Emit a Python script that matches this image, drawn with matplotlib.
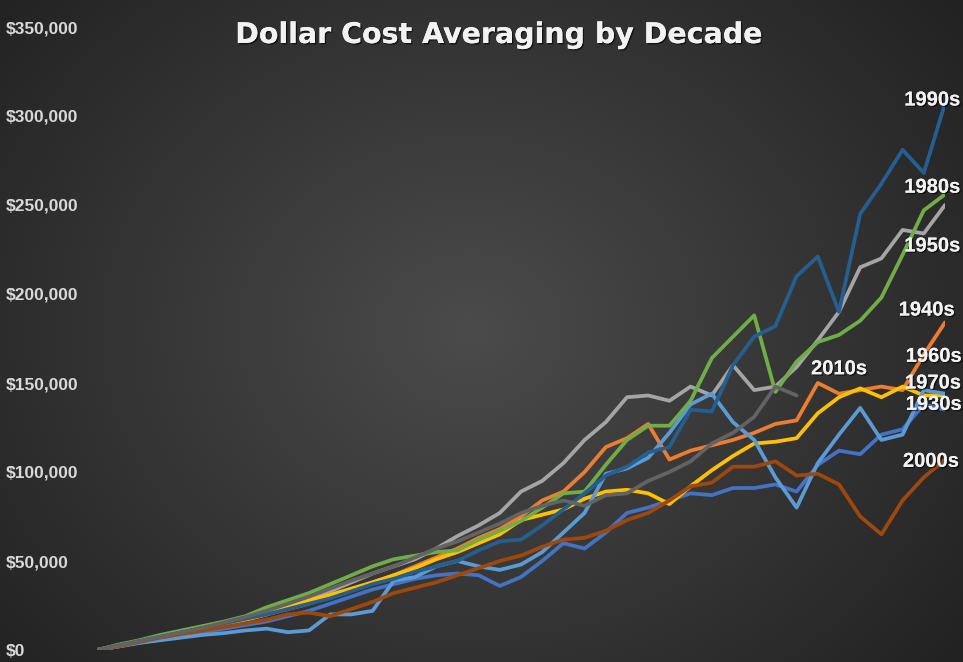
import numpy as np
import matplotlib
matplotlib.use("Agg")
import matplotlib.pyplot as plt
import matplotlib.patheffects as pe
from matplotlib.ticker import FuncFormatter

# quarterly sample points (months into the decade)
months = np.arange(0, 121, 3)

# portfolio value in $ thousands
v1930s = [0, 2, 4, 6, 8, 10, 12, 14, 16, 19, 22, 26, 30,
          34, 37, 40, 42, 43, 42, 36, 41,
          50, 60, 57, 66, 77, 80, 84, 88, 87, 91,
          91, 93, 89, 104, 112, 110, 121, 124, 138, 135]
v1940s = [0, 2.5, 5, 7, 9.5, 12, 14.5, 17, 20, 23, 26, 30, 34,
          38, 42, 47, 52, 57, 63, 68, 75,
          84, 89, 100, 114, 119, 127, 107, 112, 115, 118,
          122, 127, 129, 150, 144, 146, 148, 146, 166, 184]
v1950s = [0, 2, 4.5, 7, 9.5, 12, 15, 18, 22, 26, 29, 33, 38,
          43, 47, 51, 57, 64, 70, 77, 89,
          95, 105, 118, 128, 142, 143, 140, 148, 143, 160,
          146, 148, 159, 174, 190, 215, 220, 236, 234, 250]
v1960s = [0, 2.5, 4.5, 7, 9, 11.5, 14, 17, 20, 24, 28, 31, 34.5,
          38, 42, 46, 51, 55, 60, 65, 73,
          76, 79, 85, 89, 90, 88, 82, 92, 101, 109,
          116, 117, 119, 133, 142, 147, 142, 148, 143, 143]
v1970s = [0, 2, 4, 5.5, 7, 8.5, 9.5, 11, 12, 10, 11, 20, 20,
          22, 39, 41, 47, 50, 47, 45, 48,
          55, 66, 77, 99, 102, 108, 122, 138, 144, 128,
          118, 97, 80, 105, 121, 136, 118, 121, 146, 144]
v1980s = [0, 3, 5.5, 8.5, 11, 13.5, 16, 19, 24, 28, 32, 37, 42,
          47, 51, 53, 55, 56, 62, 67, 72.5,
          80, 88, 89, 104, 118, 126, 126, 140, 164, 176,
          188, 145, 162, 173, 177, 185, 198, 222, 247, 256]
v1990s = [0, 2.5, 5, 7.5, 10, 12.5, 15, 17.5, 20, 23, 26, 29, 33,
          37, 40, 44, 47, 50, 56, 61, 62,
          70, 79, 88, 98, 103, 111, 114, 135, 134, 160,
          176, 182, 210, 221, 190, 245, 262, 281, 268, 307]
v2000s = [0, 2, 4.5, 7, 9, 11, 13, 15, 17, 20, 21, 19, 23,
          27, 32, 35, 38, 42, 46, 50, 53,
          58, 62, 63, 67, 73, 77, 84, 92, 94, 103,
          103, 106, 98, 99, 93, 75, 65, 84, 97, 107]
v2010s = [0, 2.5, 5, 7.5, 10, 12.5, 15.5, 18.5, 22, 26, 30, 34.5, 39,
          43, 47, 52, 57, 61, 66, 71, 77,
          81, 84, 81, 87, 88, 95, 100, 106, 116, 122,
          131, 148, 143]

decades = ["1930s", "1940s", "1950s", "1960s", "1970s",
           "1980s", "1990s", "2000s", "2010s"]
values = [v1930s, v1940s, v1950s, v1960s, v1970s,
          v1980s, v1990s, v2000s, v2010s]
colors = ["#4472C4", "#ED7D31", "#A5A5A5", "#FFC000", "#5B9BD5",
          "#70AD47", "#255E91", "#9E480E", "#636363"]

# where the decade names sit (month, $k)
label_pos = {"1990s": (118.2, 309), "1980s": (118.2, 260), "1950s": (118.2, 227),
             "1940s": (117.4, 191), "1960s": (118.4, 165), "1970s": (118.3, 150),
             "1930s": (118.4, 138), "2000s": (118.0, 106), "2010s": (105.0, 158)}

W, H = 963, 662
fig = plt.figure(figsize=(W / 100, H / 100), dpi=100)

# radial dark background, with a small ordered dither against banding
bg = fig.add_axes([0, 0, 1, 1], zorder=0)
yy, xx = np.mgrid[0:H, 0:W]
r = np.sqrt(((xx - 470) / 620.0) ** 2 + ((yy - 330) / 520.0) ** 2)
r = np.clip(r, 0, 1)
shade = 0.295 - 0.16 * r
bayer = np.array([[0, 8, 2, 10], [12, 4, 14, 6], [3, 11, 1, 9], [15, 7, 13, 5]]) / 16.0 - 0.5
shade = shade + np.tile(bayer, (H // 4 + 1, W // 4 + 1))[:H, :W] / 255.0
rgb = np.dstack([shade, shade, shade])
bg.imshow(np.clip(rgb, 0, 1), aspect="auto", interpolation="nearest")
bg.axis("off")

ax = fig.add_axes([97 / W, (H - 650) / H, (945 - 97) / W, (650 - 27) / H], zorder=1)
ax.patch.set_alpha(0)

for dec, vals, c in zip(decades, values, colors):
    ax.plot(months[:len(vals)], np.array(vals) * 1000, color=c, lw=2.7,
            solid_joinstyle="round", solid_capstyle="round")

shadow = [pe.withSimplePatchShadow(offset=(1, -1), shadow_rgbFace="black", alpha=0.6), pe.Normal()]
for dec, (mx, my) in label_pos.items():
    ax.text(mx, my * 1000, dec, color="#f2f2f2", fontsize=14.5, fontweight="bold",
            ha="center", va="center", family="Liberation Sans", path_effects=shadow)

ax.set_xlim(0, 120)
ax.set_ylim(0, 350000)
ax.set_xticks([])
ax.set_yticks(np.arange(0, 350001, 50000))
ax.yaxis.set_major_formatter(FuncFormatter(lambda v, p: "${:,.0f}".format(v)))
ax.tick_params(axis="y", length=0, pad=66, labelcolor="#d9d9d9", labelsize=12.5)
for lab in ax.get_yticklabels():
    lab.set_ha("left")
    lab.set_fontweight("bold")
    lab.set_family("Liberation Sans")
for s in ax.spines.values():
    s.set_visible(False)

fig.text(499 / W, 1 - 35 / H, "Dollar Cost Averaging by Decade", color="#f2f2f2",
         fontsize=20.5, fontweight="bold", ha="center", va="center",
         path_effects=shadow)

fig.savefig("out.png", dpi=100)
